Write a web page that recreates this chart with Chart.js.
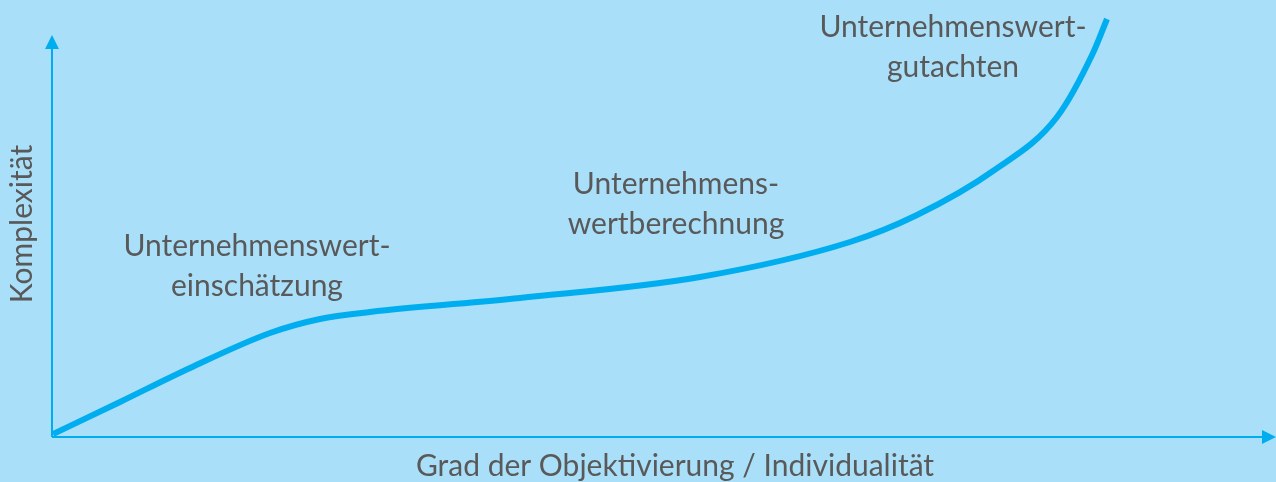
<!DOCTYPE html>
<html>
<head>
<meta charset="utf-8">
<script src="https://cdn.jsdelivr.net/npm/chart.js@4"></script>
<style>
  html, body { margin: 0; padding: 0; background: #aadff9; }
  #wrap { width: 1276px; height: 482px; position: relative; }
</style>
</head>
<body>
<div id="wrap"><canvas id="chart"></canvas></div>
<script>
// Curve (x along the horizontal axis, y up the vertical axis)
const curveX = [1, 68, 138, 218, 268, 318, 468, 648, 798, 865, 941, 1005, 1041, 1055];
const curveY = [3, 35, 69, 104, 118, 125, 139, 160, 195, 222, 266, 320, 384, 418];

// Stage labels, anchored in the same units
const stageLines = [
  ['Unternehmenswert-', 'einschätzung'],
  ['Unternehmens-', 'wertberechnung'],
  ['Unternehmenswert-', 'gutachten']
];
const stageX = [205, 624, 901];
const stageY = [191, 253, 410];

const xTitle = 'Grad der Objektivierung / Individualität';
const yTitle = 'Komplexität';

const axisMaxX = 1224;
const axisMaxY = 437;
const yArrowTop = 402;

const blue = '#00aeef';
const textColor = '#595959';
const fontFamily = 'Lato, "Open Sans", sans-serif';

// Axes with arrow heads, axis titles and stage labels
const decorPlugin = {
  id: 'decor',
  beforeDraw(chart) {
    const ctx = chart.ctx;
    ctx.save();
    ctx.fillStyle = '#aadff9';
    ctx.fillRect(0, 0, chart.width, chart.height);
    ctx.restore();
  },
  afterDraw(chart) {
    const ctx = chart.ctx;
    const xs = chart.scales.x, ys = chart.scales.y;
    const x0 = xs.getPixelForValue(0), y0 = ys.getPixelForValue(0);
    const xEnd = xs.getPixelForValue(axisMaxX);
    const yEnd = ys.getPixelForValue(yArrowTop);

    ctx.save();
    ctx.strokeStyle = blue;
    ctx.fillStyle = blue;
    ctx.lineWidth = 2;
    ctx.beginPath();
    ctx.moveTo(x0, y0);
    ctx.lineTo(xEnd - 12, y0);
    ctx.moveTo(x0, y0);
    ctx.lineTo(x0, yEnd + 12);
    ctx.stroke();
    // arrow heads
    ctx.beginPath();
    ctx.moveTo(xEnd, y0);
    ctx.lineTo(xEnd - 14, y0 - 7);
    ctx.lineTo(xEnd - 14, y0 + 7);
    ctx.closePath();
    ctx.fill();
    ctx.beginPath();
    ctx.moveTo(x0, yEnd);
    ctx.lineTo(x0 - 7, yEnd + 14);
    ctx.lineTo(x0 + 7, yEnd + 14);
    ctx.closePath();
    ctx.fill();

    // titles
    ctx.fillStyle = textColor;
    ctx.font = '30px ' + fontFamily;
    ctx.textAlign = 'center';
    ctx.textBaseline = 'middle';
    ctx.fillText(xTitle, 675, 466);
    ctx.translate(22, 224);
    ctx.rotate(-Math.PI / 2);
    ctx.fillText(yTitle, 0, 0);
    ctx.restore();

    // stage labels
    ctx.save();
    ctx.fillStyle = textColor;
    ctx.font = '30px ' + fontFamily;
    ctx.textAlign = 'center';
    ctx.textBaseline = 'middle';
    stageLines.forEach((lines, i) => {
      const px = xs.getPixelForValue(stageX[i]);
      const py = ys.getPixelForValue(stageY[i]);
      lines.forEach((t, j) => ctx.fillText(t, px, py + j * 40));
    });
    ctx.restore();
  }
};

new Chart(document.getElementById('chart'), {
  type: 'line',
  data: {
    datasets: [{
      data: curveX.map((x, i) => ({ x: x, y: curveY[i] })),
      borderColor: blue,
      borderWidth: 6,
      pointRadius: 0,
      cubicInterpolationMode: 'monotone',
      fill: false
    }]
  },
  options: {
    responsive: true,
    maintainAspectRatio: false,
    animation: false,
    layout: { padding: { left: 52, right: 0, top: 0, bottom: 45 } },
    plugins: {
      legend: { display: false },
      tooltip: { enabled: false }
    },
    scales: {
      x: { type: 'linear', min: 0, max: axisMaxX, display: false },
      y: { type: 'linear', min: 0, max: axisMaxY, display: false }
    }
  },
  plugins: [decorPlugin]
});
</script>
</body>
</html>
